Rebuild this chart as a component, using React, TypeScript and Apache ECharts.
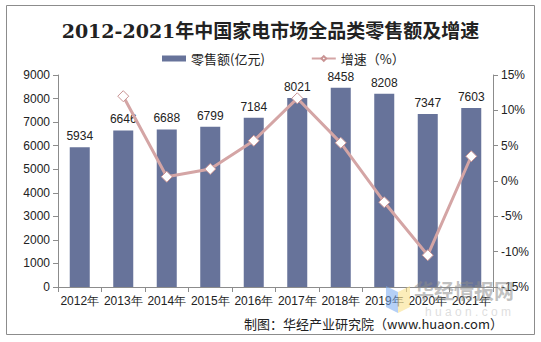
import React, { useEffect, useRef } from "react";
import * as echarts from "echarts";

const years = ["2012年", "2013年", "2014年", "2015年", "2016年", "2017年", "2018年", "2019年", "2020年", "2021年"];
const sales = [5934, 6646, 6688, 6799, 7184, 8021, 8458, 8208, 7347, 7603];
const growth = [null, 12.0, 0.6, 1.7, 5.7, 11.7, 5.4, -3.0, -10.5, 3.5];

export default function App() {
  const ref = useRef<HTMLDivElement>(null);
  useEffect(() => {
    const chart = echarts.init(ref.current!, null, { renderer: "svg" });
    const axisLine = { show: true, lineStyle: { color: "#8c8c8c", width: 1 } };
    const axisLabel = { color: "#222", fontSize: 12, fontFamily: "Liberation Sans, Arial, sans-serif" };
    chart.setOption({
      animation: false,
      backgroundColor: "#fff",
      title: {
        text: "2012-2021年中国家电市场全品类零售额及增速",
        left: "center",
        top: 16,
        textStyle: { fontSize: 19, fontWeight: "bold", color: "#222", fontFamily: "DejaVu Serif, Noto Sans CJK SC, serif" },
      },
      legend: {
        top: 47,
        left: 157,
        itemGap: 46,
        itemWidth: 24,
        itemHeight: 6,
        textStyle: { fontSize: 13, color: "#222", fontFamily: "Noto Sans CJK SC, sans-serif" },
        data: [
          { name: "零售额(亿元)", icon: "rect" },
          { name: "增速（%）" },
        ],
      },
      grid: { left: 58, right: 48, top: 75, bottom: 55 },
      xAxis: {
        type: "category",
        data: years,
        axisLine,
        axisTick: { show: true, alignWithLabel: false, length: 5, lineStyle: { color: "#8c8c8c" } },
        axisLabel: { ...axisLabel, margin: 8, interval: 0 },
      },
      yAxis: [
        {
          type: "value",
          min: 0,
          max: 9000,
          interval: 1000,
          axisLine,
          axisTick: { show: true, length: 5, lineStyle: { color: "#8c8c8c" } },
          axisLabel: { ...axisLabel, margin: 8, formatter: (v: number) => String(v) },
          splitLine: { show: false },
        },
        {
          type: "value",
          min: -15,
          max: 15,
          interval: 5,
          position: "right",
          axisLine,
          axisTick: { show: true, length: 5, lineStyle: { color: "#8c8c8c" } },
          axisLabel: { ...axisLabel, margin: 8, formatter: "{value}%" },
          splitLine: { show: false },
        },
      ],
      series: [
        {
          name: "零售额(亿元)",
          type: "bar",
          data: sales,
          barWidth: "46%",
          itemStyle: { color: "#67739a" },
          label: { show: true, position: "top", distance: 5, color: "#222", fontSize: 12, fontFamily: "Liberation Sans, Arial, sans-serif" },
        },
        {
          name: "增速（%）",
          type: "line",
          yAxisIndex: 1,
          data: growth,
          symbol: "diamond",
          symbolSize: 11,
          lineStyle: { color: "#d4a5a5", width: 3 },
          itemStyle: { color: "#ffffff", borderColor: "#c99393", borderWidth: 1 },
        },
      ],
      graphic: [
        {
          type: "rect",
          shape: { x: 6.5, y: 5.5, width: 528, height: 329 },
          style: { fill: "none", stroke: "#8c8c8c", lineWidth: 1 },
          silent: true,
        },
        {
          type: "text",
          x: 503,
          y: 323,
          style: {
            text: "制图：华经产业研究院（www.huaon.com）",
            fontSize: 13,
            fill: "#222",
            align: "right",
            verticalAlign: "middle",
            fontFamily: "Noto Sans CJK SC, sans-serif",
          },
        },
        {
          type: "polygon",
          shape: { points: [[386, 286], [398, 292], [398, 313], [386, 307]] },
          style: { fill: "rgba(120,170,240,0.55)" },
          z: 100,
        },
        {
          type: "polygon",
          shape: { points: [[398, 292], [410, 286], [410, 307], [398, 313]] },
          style: { fill: "rgba(250,225,140,0.6)" },
          z: 100,
        },
        {
          type: "text",
          x: 464,
          y: 290,
          style: {
            text: "华经情报网",
            fontSize: 20,
            fontWeight: "bold",
            fill: "rgba(140,140,140,0.55)",
            align: "center",
            verticalAlign: "middle",
            fontFamily: "Noto Sans CJK SC, sans-serif",
          },
          z: 100,
        },
        {
          type: "text",
          x: 468,
          y: 312,
          style: {
            text: "h u a o n . c o m",
            fontSize: 12,
            fill: "rgba(190,190,190,0.5)",
            align: "center",
            verticalAlign: "middle",
            fontFamily: "Liberation Sans, sans-serif",
          },
          z: 100,
        },
      ],
    });
    return () => chart.dispose();
  }, []);
  return <div ref={ref} style={{ position: "fixed", left: 0, top: 0, width: 541, height: 342 }} />;
}
